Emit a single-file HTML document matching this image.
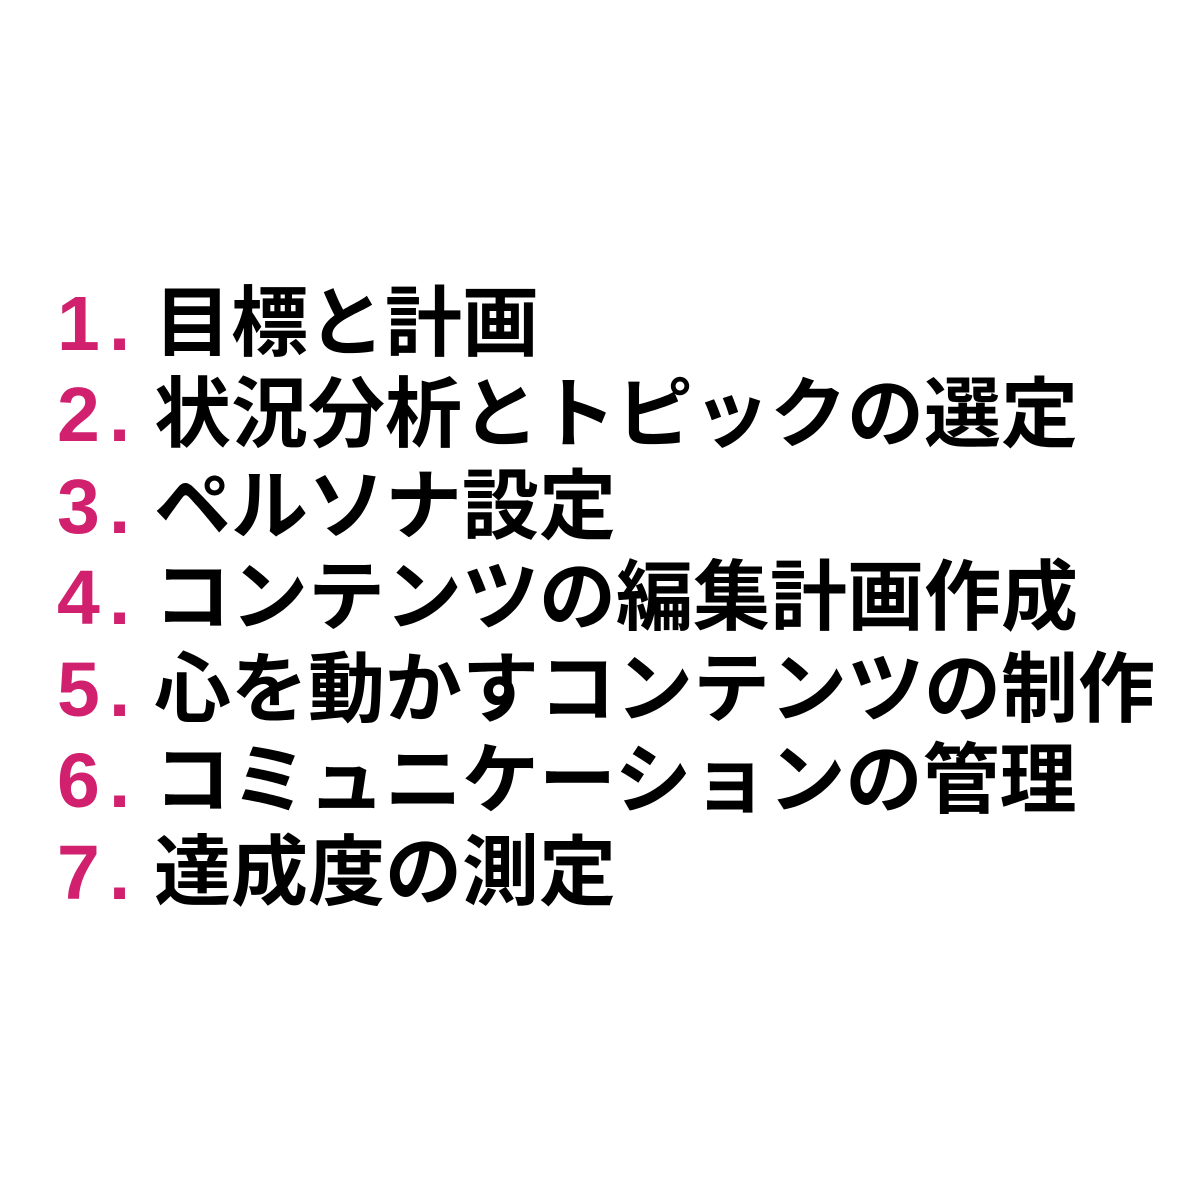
<!DOCTYPE html>
<html><head><meta charset="utf-8">
<style>
html,body{margin:0;padding:0;background:#fff;width:1200px;height:1200px;overflow:hidden;position:relative}
.r{position:absolute;left:0;height:92px;line-height:92px;font-size:77px;font-weight:bold;white-space:nowrap}
.n{position:absolute;left:57px;color:#d0206e;font-family:"Liberation Sans",sans-serif;letter-spacing:9px}
.t{position:absolute;left:154px;color:#000;font-family:"Liberation Sans","Noto Sans CJK JP",sans-serif}
</style></head><body>
<div class="r" style="top:278px"><span class="n">1.</span><span class="t">目標と計画</span></div>
<div class="r" style="top:369px"><span class="n">2.</span><span class="t">状況分析とトピックの選定</span></div>
<div class="r" style="top:461px"><span class="n">3.</span><span class="t">ペルソナ設定</span></div>
<div class="r" style="top:552px"><span class="n">4.</span><span class="t">コンテンツの編集計画作成</span></div>
<div class="r" style="top:644px"><span class="n">5.</span><span class="t">心を動かすコンテンツの制作</span></div>
<div class="r" style="top:735px"><span class="n">6.</span><span class="t">コミュニケーションの管理</span></div>
<div class="r" style="top:827px"><span class="n">7.</span><span class="t">達成度の測定</span></div>
</body></html>
